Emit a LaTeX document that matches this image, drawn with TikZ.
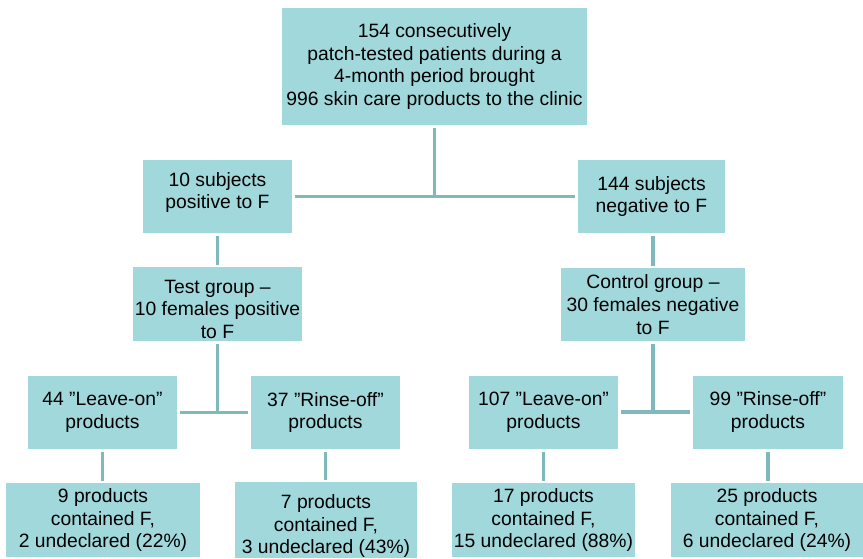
\documentclass[tikz,border=0pt]{standalone}
\usepackage{fontspec}
\setmainfont{Liberation Sans}
\definecolor{boxfill}{RGB}{160,216,220}
\definecolor{linecol}{RGB}{127,185,188}
\tikzset{
  box/.style={fill=boxfill, draw=none, inner sep=0pt, align=center,
    font=\fontsize{19.3}{22.6}\selectfont},
  conn/.style={draw=linecol, line width=3.2pt}
}
\begin{document}
\begin{tikzpicture}[x=1pt,y=-1pt]
\useasboundingbox (0,0) rectangle (863,558);
% boxes
\node[box, minimum width=305, minimum height=117] (top) at (434.5,66.5)
  {154 consecutively\\patch-tested patients during a\\4-month period brought\\996 skin care products to the clinic};
\node[box, minimum width=149, minimum height=73] (pos) at (217.5,196.5)
  {10 subjects\\positive to F\rule[-12pt]{0pt}{0pt}};
\node[box, minimum width=147, minimum height=73] (neg) at (651.5,196.5)
  {144 subjects\\negative to F};
\node[box, minimum width=169, minimum height=74] (test) at (217.5,304)
  {\rule{0pt}{24pt}Test group –\\10 females positive\\to F};
\node[box, minimum width=184, minimum height=73] (ctrl) at (653,304.5)
  {Control group –\\30 females negative\\to F};
\node[box, minimum width=149, minimum height=73] (lon1) at (102.5,412.5)
  {44 ”Leave-on”\\products};
\node[box, minimum width=149, minimum height=73] (rof1) at (325.5,412.5)
  {37 ”Rinse-off”\\products};
\node[box, minimum width=149, minimum height=73] (lon2) at (543.5,412)
  {107 ”Leave-on”\\products};
\node[box, minimum width=150, minimum height=73] (rof2) at (768,412)
  {99 ”Rinse-off”\\products};
\node[box, minimum width=194, minimum height=74] (r1) at (103,520)
  {9 products\\contained F,\\2 undeclared (22\%)};
\node[box, minimum width=182, minimum height=74] (r2) at (326,520)
  {\rule{0pt}{26pt}7 products\\contained F,\\3 undeclared (43\%)};
\node[box, minimum width=183, minimum height=74] (r3) at (543.5,520)
  {17 products\\contained F,\\15 undeclared (88\%)};
\node[box, minimum width=192, minimum height=74] (r4) at (767,520)
  {25 products\\contained F,\\6 undeclared (24\%)};
% connectors
\coordinate (j0) at (top.south |- pos.east);
\draw[conn] ([yshift=-3pt]top.south) -- (j0);
\draw[conn] ([xshift=3pt]pos.east) -- ([xshift=-3pt]neg.west);
\draw[conn] ([yshift=-3pt]pos.south) -- ([yshift=2pt]test.north);
\draw[conn] ([yshift=-3pt]ctrl.north |- neg.south) -- ([yshift=2pt]ctrl.north);
\coordinate (j1) at (test.south |- lon1.east);
\draw[conn] ([yshift=-3pt]test.south) -- (j1);
\draw[conn] ([xshift=3pt]lon1.east) -- ([xshift=-3pt]rof1.west);
\coordinate (j2) at (ctrl.south |- lon2.east);
\draw[conn] ([yshift=-3pt]ctrl.south) -- (j2);
\draw[conn] ([xshift=3pt]lon2.east) -- ([xshift=-3pt]rof2.west);
\draw[conn] ([yshift=-3pt]lon1.south) -- ([yshift=2pt]lon1.south |- r1.north);
\draw[conn] ([yshift=-3pt]rof1.south) -- ([yshift=2pt]rof1.south |- r2.north);
\draw[conn] ([yshift=-3pt]lon2.south) -- ([yshift=2pt]lon2.south |- r3.north);
\draw[conn] ([yshift=-3pt]rof2.south) -- ([yshift=2pt]rof2.south |- r4.north);
\end{tikzpicture}
\end{document}
